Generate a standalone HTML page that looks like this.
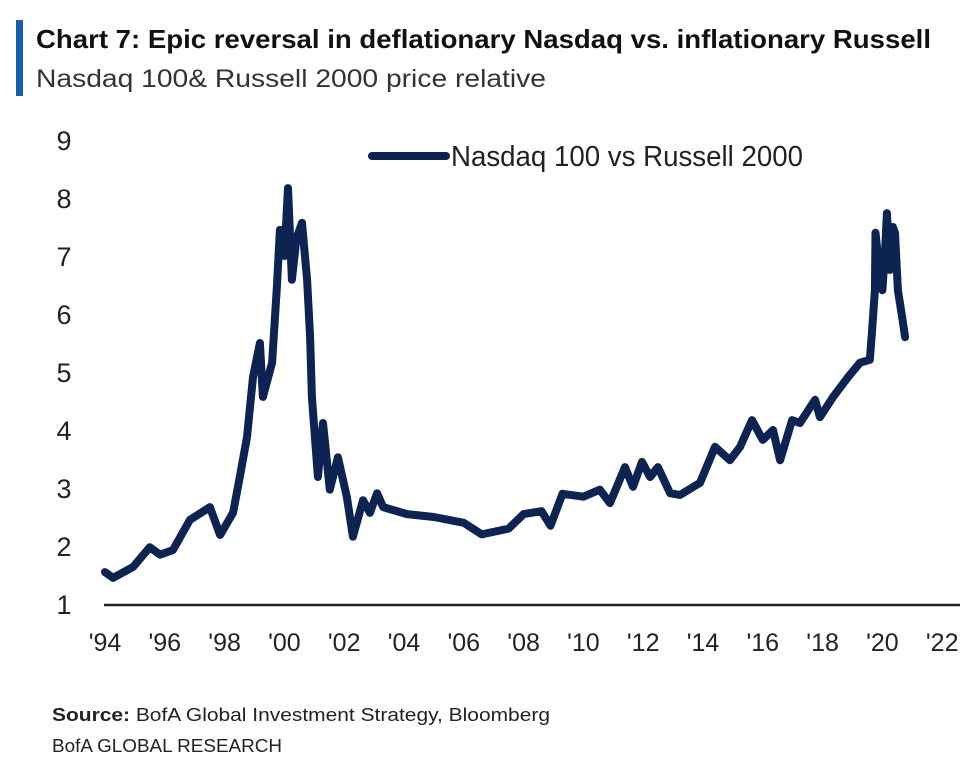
<!DOCTYPE html>
<html><head><meta charset="utf-8"><style>
body{margin:0;background:#fff;width:974px;height:768px;overflow:hidden;font-family:"Liberation Sans",sans-serif;}
</style></head><body>
<svg width="974" height="768">
<rect x="16" y="20" width="7" height="76" fill="#1a5eb0"/>
<text x="36" y="48" font-size="26" font-weight="bold" fill="#111" textLength="895" lengthAdjust="spacingAndGlyphs">Chart 7: Epic reversal in deflationary Nasdaq vs. inflationary Russell</text>
<text x="36" y="87" font-size="25" fill="#333" textLength="510" lengthAdjust="spacingAndGlyphs">Nasdaq 100&amp; Russell 2000 price relative</text>
<g id="yticks"></g><g id="xticks"></g>
<line x1="104" y1="605" x2="960" y2="605" stroke="#222" stroke-width="2.5"/>
<path id="series" fill="none" stroke="#0d2352" stroke-width="8" stroke-linejoin="round" stroke-linecap="round"/>
<line x1="372" y1="156" x2="446" y2="156" stroke="#0d2352" stroke-width="8" stroke-linecap="round"/>
<text x="451" y="166" font-size="29" fill="#222" textLength="352" lengthAdjust="spacingAndGlyphs">Nasdaq 100 vs Russell 2000</text>
<text x="52" y="721" font-size="18" fill="#222" textLength="498" lengthAdjust="spacingAndGlyphs"><tspan font-weight="bold">Source:</tspan>  BofA Global Investment Strategy, Bloomberg</text>
<text x="52" y="752" font-size="18" fill="#222" textLength="230" lengthAdjust="spacingAndGlyphs">BofA GLOBAL RESEARCH</text>
</svg>
<script>
const years=[1994.0,1994.27,1994.94,1995.5,1995.84,1996.27,1996.84,1997.51,1997.85,1998.28,1998.51,1998.75,1998.95,1999.18,1999.28,1999.59,1999.75,1999.85,2000.0,2000.12,2000.25,2000.4,2000.59,2000.76,2000.86,2000.92,2001.12,2001.29,2001.52,2001.79,2002.09,2002.29,2002.63,2002.86,2003.1,2003.3,2004.1,2005.0,2006.0,2006.6,2007.5,2008.0,2008.6,2008.9,2009.3,2010.0,2010.55,2010.89,2011.39,2011.66,2011.96,2012.23,2012.49,2012.9,2013.23,2013.9,2014.4,2014.9,2015.24,2015.64,2016.0,2016.34,2016.58,2016.98,2017.24,2017.75,2017.91,2018.35,2018.85,2019.25,2019.58,2019.65,2019.75,2019.77,2019.85,2020.0,2020.1,2020.15,2020.25,2020.35,2020.42,2020.52,2020.66,2020.76];
const values=[1.55,1.45,1.64,1.98,1.85,1.93,2.45,2.67,2.19,2.57,3.19,3.88,4.91,5.5,4.57,5.16,6.47,7.45,7.0,8.17,6.59,7.3,7.57,6.59,5.6,4.57,3.19,4.12,2.97,3.53,2.84,2.16,2.79,2.57,2.91,2.67,2.55,2.5,2.4,2.2,2.3,2.55,2.6,2.35,2.9,2.85,2.97,2.74,3.36,3.02,3.45,3.19,3.36,2.91,2.88,3.09,3.71,3.48,3.71,4.17,3.83,4.0,3.48,4.17,4.12,4.52,4.22,4.57,4.91,5.16,5.21,5.67,6.41,7.4,7.0,6.41,7.2,7.74,6.76,7.5,7.4,6.41,5.95,5.6];
const yTicks=[1,2,3,4,5,6,7,8,9];
const xTickYears=[1994,1996,1998,2000,2002,2004,2006,2008,2010,2012,2014,2016,2018,2020,2022];
const xTickLabels=["'94","'96","'98","'00","'02","'04","'06","'08","'10","'12","'14","'16","'18","'20","'22"];
const xs=y=>105+(y-1994)*29.9;
const ys=v=>604-(v-1)*58;
const NS="http://www.w3.org/2000/svg";
const yg=document.getElementById('yticks');
yTicks.forEach(t=>{const e=document.createElementNS(NS,'text');e.setAttribute('x',64);e.setAttribute('y',ys(t)+10);e.setAttribute('font-size','27');e.setAttribute('fill','#222');e.setAttribute('text-anchor','middle');e.textContent=t;


yg.appendChild(e);});
const xg=document.getElementById('xticks');
xTickYears.forEach((t,i)=>{const e=document.createElementNS(NS,'text');e.setAttribute('x',xs(t));e.setAttribute('y',651);e.setAttribute('font-size','25');e.setAttribute('fill','#222');e.setAttribute('text-anchor','middle');e.textContent=xTickLabels[i];


xg.appendChild(e);});
document.getElementById('series').setAttribute('d',years.map((y,i)=>(i?'L':'M')+xs(y).toFixed(1)+','+ys(values[i]).toFixed(1)).join(''));
</script>
</body></html>
